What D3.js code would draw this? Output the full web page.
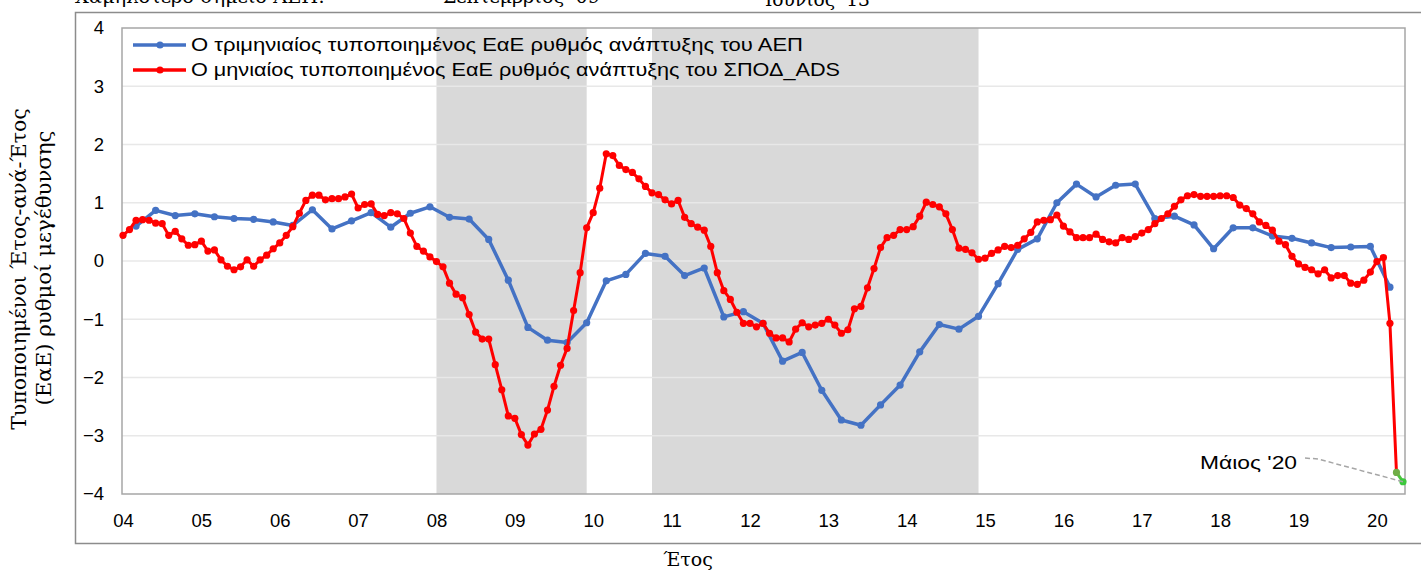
<!DOCTYPE html>
<html><head><meta charset="utf-8">
<script src="https://cdn.jsdelivr.net/npm/d3@7"></script>
<style>html,body{margin:0;padding:0;background:#fff;overflow:hidden}</style>
</head><body>
<svg id="c" width="1421" height="570"></svg>
<script>
// ---- data ----
const startMonth = "2004-01";           // first monthly category
const endMonth = "2020-05";             // last monthly category
const yearLabels = ["04","05","06","07","08","09","10","11","12","13","14","15","16","17","18","19","20"];
const yTicks = [-4,-3,-2,-1,0,1,2,3,4];
// monthly standardized YoY growth of ADS index (red), Jan 2004 .. May 2020
const adsMonthly = [
 0.44,0.54,0.70,0.71,0.70,0.65,0.64,0.44,0.51,0.38,0.27,0.28,
 0.34,0.17,0.19,0.02,-0.09,-0.15,-0.10,0.02,-0.09,0.02,0.10,0.21,
 0.31,0.44,0.59,0.82,1.04,1.13,1.13,1.05,1.07,1.07,1.10,1.15,
 0.91,0.97,0.98,0.80,0.78,0.83,0.81,0.73,0.48,0.25,0.17,0.07,
 -0.01,-0.10,-0.38,-0.57,-0.63,-0.92,-1.22,-1.34,-1.34,-1.78,-2.21,-2.66,
 -2.70,-2.98,-3.16,-2.97,-2.89,-2.56,-2.15,-1.79,-1.50,-0.85,-0.20,0.57,
 0.83,1.25,1.84,1.81,1.64,1.57,1.52,1.41,1.28,1.17,1.14,1.05,
 0.98,1.04,0.75,0.64,0.58,0.53,0.25,-0.20,-0.51,-0.66,-0.88,-1.07,
 -1.07,-1.13,-1.07,-1.24,-1.32,-1.32,-1.39,-1.17,-1.06,-1.13,-1.10,-1.07,
 -1.00,-1.10,-1.24,-1.18,-0.82,-0.78,-0.46,-0.13,0.23,0.40,0.44,0.54,
 0.54,0.59,0.77,1.01,0.97,0.93,0.81,0.54,0.22,0.20,0.14,0.03,
 0.05,0.13,0.19,0.25,0.23,0.27,0.38,0.49,0.67,0.70,0.71,0.79,
 0.60,0.50,0.40,0.40,0.40,0.46,0.37,0.33,0.31,0.40,0.37,0.42,
 0.48,0.54,0.64,0.73,0.81,0.94,1.05,1.12,1.14,1.11,1.11,1.11,
 1.12,1.12,1.09,0.96,0.90,0.81,0.67,0.61,0.53,0.34,0.28,0.08,
 -0.05,-0.11,-0.15,-0.22,-0.15,-0.29,-0.25,-0.25,-0.38,-0.40,-0.33,-0.19,
 -0.01,0.06,-1.07,-3.63,-3.79
];
// quarterly standardized YoY GDP growth (blue), Q1 2004 .. Q1 2020 (placed at quarter-end month)
const gdpQuarterly = [
 0.60,0.87,0.78,0.81,0.76,0.73,0.715,0.67,0.61,0.88,0.55,0.69,0.83,0.58,0.82,0.93,
 0.75,0.72,0.37,-0.33,-1.14,-1.36,-1.40,-1.06,-0.34,-0.23,0.13,0.08,-0.25,-0.12,-0.96,-0.87,
 -1.07,-1.72,-1.57,-2.22,-2.73,-2.82,-2.47,-2.13,-1.56,-1.09,-1.17,-0.95,-0.39,0.20,0.38,1.00,
 1.32,1.10,1.30,1.32,0.73,0.77,0.62,0.21,0.57,0.57,0.43,0.39,0.31,0.23,0.24,0.25,-0.45
];
const recessions = [["2008-01","2009-12"],["2010-10","2014-12"]];
const legendLabels = ["Ο τριμηνιαίος τυποποιημένος ΕαΕ ρυθμός ανάπτυξης του ΑΕΠ",
                      "Ο μηνιαίος τυποποιημένος ΕαΕ ρυθμός ανάπτυξης του ΣΠΟΔ_ADS"];
const topNotes = ["Χαμηλότερο σημείο ΑΕΠ:", "Σεπτέμβριος '09", "Ιούνιος '13"];
const yTitle = ["Τυποποιημένοι Έτος-ανά-Έτος", "(ΕαΕ) ρυθμοί μεγέθυνσης"];
const xTitle = "Έτος";
const annotation = "Μάιος '20";

// ---- helpers ----
const mIndex = s => { const [yy, mm] = s.split("-").map(Number); const [y0, m0] = startMonth.split("-").map(Number); return (yy - y0) * 12 + (mm - m0); };
const nMonths = mIndex(endMonth) + 1;

const svg = d3.select("#c");
const SANS = "'Liberation Sans', Arial, sans-serif";
const SERIF = "'DejaVu Serif', 'Liberation Serif', serif";

const x = d3.scaleLinear().domain([0, nMonths - 1]).range([123, 1403]);
const y = d3.scaleLinear().domain([-4, 4]).range([494, 28]);
const plotL = 122, plotR = 1405, plotT = y(4), plotB = y(-4);

function fitWidth(sel, w) {
  const n = sel.node(); const cur = n.getComputedTextLength();
  const fs = parseFloat(sel.attr("font-size"));
  sel.attr("font-size", (fs * w / cur).toFixed(2));
}

// outer chart frame
const frame = svg.append("g").attr("stroke", "#8c8c8c").attr("stroke-width", 1.5).attr("fill", "none");
frame.append("path").attr("d", `M1421,12.5 H75.5 V543.5 H1421`);

// top notes (the reference shows them cropped by the page's top edge)
const tn = [[75, 3, 250], [443, 3, 157], [765, 6, 105]];
topNotes.forEach((t, i) => {
  const s = svg.append("text").attr("x", tn[i][0]).attr("y", tn[i][1]).attr("font-family", SERIF)
    .attr("font-size", 19).attr("fill", "#000").text(t);
  fitWidth(s, tn[i][2]);
});

// recession shading
svg.append("g").selectAll("rect").data(recessions).join("rect")
  .attr("x", d => x(mIndex(d[0])))
  .attr("width", d => x(mIndex(d[1])) - x(mIndex(d[0])))
  .attr("y", plotT).attr("height", plotB - plotT).attr("fill", "#d9d9d9");

// gridlines
svg.append("g").selectAll("line").data(yTicks.filter(v => v > -4 && v < 4)).join("line")
  .attr("x1", plotL).attr("x2", plotR).attr("y1", d => y(d)).attr("y2", d => y(d))
  .attr("stroke", "#e8e8e8").attr("stroke-width", 1.5);

// plot border
svg.append("rect").attr("x", plotL).attr("y", plotT).attr("width", plotR - plotL).attr("height", plotB - plotT)
  .attr("fill", "none").attr("stroke", "#a6a6a6").attr("stroke-width", 1.5);

// y axis
const ya = svg.append("g").attr("transform", `translate(${plotL},0)`)
  .call(d3.axisLeft(y).tickValues(yTicks).tickFormat(d3.format("d")).tickSize(0).tickPadding(18));
ya.select(".domain").remove();
ya.selectAll("text").attr("font-family", SANS).attr("font-size", 18.5).attr("fill", "#000");

// x axis labels
const xa = svg.append("g").attr("transform", `translate(0,${plotB})`)
  .call(d3.axisBottom(x).tickValues(yearLabels.map((d, i) => i * 12)).tickFormat((d, i) => yearLabels[i]).tickSize(0).tickPadding(20));
xa.select(".domain").remove();
xa.selectAll("text").attr("font-family", SANS).attr("font-size", 18.5).attr("fill", "#000");

// axis titles
const yt1 = svg.append("text").attr("transform", "translate(26,269) rotate(-90)").attr("text-anchor", "middle")
  .attr("font-family", SERIF).attr("font-size", 19).text(yTitle[0]);
fitWidth(yt1, 322);
const yt2 = svg.append("text").attr("transform", "translate(51,268) rotate(-90)").attr("text-anchor", "middle")
  .attr("font-family", SERIF).attr("font-size", 19).text(yTitle[1]);
fitWidth(yt2, 275);
svg.append("text").attr("x", 688).attr("y", 566).attr("text-anchor", "middle")
  .attr("font-family", SERIF).attr("font-size", 19).text(xTitle);

// series
const line = d3.line().x(d => x(d[0])).y(d => y(d[1]));
const blue = gdpQuarterly.map((v, i) => [2 + i * 3, v]);
const red = adsMonthly.map((v, i) => [i, v]);
const redMain = red.slice(0, red.length - 1);
const greenSeg = red.slice(red.length - 2);

svg.append("path").datum(blue).attr("d", line).attr("fill", "none").attr("stroke", "#4472c4")
  .attr("stroke-width", 3.5).attr("stroke-linejoin", "round");
svg.append("g").selectAll("circle").data(blue).join("circle")
  .attr("cx", d => x(d[0])).attr("cy", d => y(d[1])).attr("r", 3.6).attr("fill", "#4472c4");

svg.append("path").datum(redMain).attr("d", line).attr("fill", "none").attr("stroke", "#ff0000")
  .attr("stroke-width", 3).attr("stroke-linejoin", "round");
svg.append("g").selectAll("circle").data(redMain.slice(0, redMain.length - 1)).join("circle")
  .attr("cx", d => x(d[0])).attr("cy", d => y(d[1])).attr("r", 3.6).attr("fill", "#ff0000");
svg.append("path").datum(greenSeg).attr("d", line).attr("fill", "none").attr("stroke", "#4cc43c").attr("stroke-width", 3);
svg.append("g").selectAll("circle").data(greenSeg).join("circle")
  .attr("cx", d => x(d[0])).attr("cy", d => y(d[1])).attr("r", 3.6).attr("fill", (d, i) => i === 0 ? "#70ad47" : "#3cc83c");

// annotation
const last = red[red.length - 1];
svg.append("path").attr("d", `M1305,458 L1318,459 L${x(last[0])},${y(last[1])}`)
  .attr("fill", "none").attr("stroke", "#a6a6a6").attr("stroke-width", 1.5).attr("stroke-dasharray", "5,3");
svg.append("text").attr("x", 1297).attr("y", 469).attr("text-anchor", "end")
  .attr("font-family", SANS).attr("font-size", 19).attr("textLength", 97).attr("lengthAdjust", "spacingAndGlyphs")
  .text(annotation);

// legend
const lg = svg.append("g");
[["#4472c4", 45], ["#ff0000", 70]].forEach((c, i) => {
  lg.append("line").attr("x1", 133).attr("x2", 186).attr("y1", c[1]).attr("y2", c[1]).attr("stroke", c[0]).attr("stroke-width", 3.5);
  lg.append("circle").attr("cx", 160).attr("cy", c[1]).attr("r", 3.6).attr("fill", c[0]);
  lg.append("text").attr("x", 191).attr("y", c[1] + 6).attr("font-family", SANS).attr("font-size", 18.5)
    .attr("textLength", i === 0 ? 612 : 649).attr("lengthAdjust", "spacingAndGlyphs").text(legendLabels[i]);
});
</script>
</body></html>
